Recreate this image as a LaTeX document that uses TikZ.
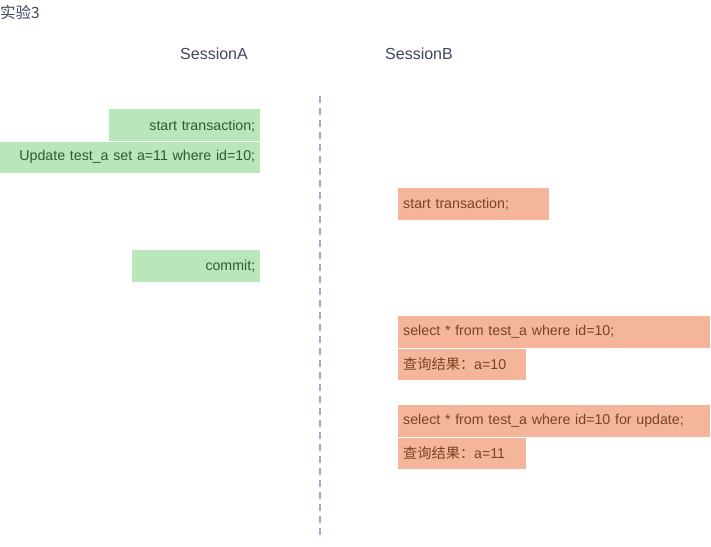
\documentclass[tikz,border=0pt]{standalone}
\usepackage{fontspec}
\setmainfont{Liberation Sans}
\newfontfamily\cjk{Noto Sans CJK SC}
\definecolor{gfill}{HTML}{B8E8BA}
\definecolor{gtext}{HTML}{2F5A30}
\definecolor{ofill}{HTML}{F5B59A}
\definecolor{otext}{HTML}{7A4422}
\definecolor{dline}{HTML}{9EA6E6}
\definecolor{hdr}{HTML}{3E4660}
\tikzset{
  gbox/.style={fill=gfill, text=gtext, anchor=north west, inner xsep=5pt, inner ysep=0pt, align=right, font=\fontsize{14.2}{16}\selectfont},
  obox/.style={fill=ofill, text=otext, anchor=north west, inner xsep=5pt, inner ysep=0pt, align=left, font=\fontsize{14.2}{16}\selectfont},
  hdrlabel/.style={text=hdr, font=\fontsize{16}{19}\selectfont, inner sep=0pt},
}
\begin{document}
\begin{tikzpicture}[x=1pt,y=-1pt]
\useasboundingbox (0,0) rectangle (711,546);
\node[anchor=west, text=hdr, inner sep=0pt, font=\cjk\fontsize{15.5}{18}\selectfont] (title) at (0,13) {实验3};
\node[hdrlabel] (sa) at (214,54) {SessionA};
\node[hdrlabel] (sb) at (419,54) {SessionB};
\coordinate (ltop) at (320,96);
\coordinate (lbot) at (320,540);
\draw[dline, line width=2pt, dash pattern=on 7pt off 5pt] (ltop) -- (lbot);
% green
\node[gbox, minimum width=151pt, minimum height=32pt, text width=141pt, text depth=0pt] (a1) at (109,109) {start transaction;};
\node[gbox, minimum width=260pt, minimum height=31pt, text width=250pt] (a2) at (0,141.5) {Update test\_a set a=11 where id=10;};
\node[gbox, minimum width=128pt, minimum height=32pt, text width=118pt] (a3) at (132,250) {commit;};
% orange
\node[obox, minimum width=151pt, minimum height=32pt, text width=141pt] (b1) at (398,188) {start transaction;};
\node[obox, minimum width=312pt, minimum height=32pt, text width=302pt] (b2) at (398,316) {select * from test\_a where id=10;};
\node[obox, minimum width=128pt, minimum height=31pt, text width=118pt] (b3) at (398,348.5) {{\cjk 查询结果：}a=10};
\node[obox, minimum width=312pt, minimum height=32pt, text width=302pt] (b4) at (398,405) {select * from test\_a where id=10 for update;};
\node[obox, minimum width=128pt, minimum height=31pt, text width=118pt] (b5) at (398,437.5) {{\cjk 查询结果：}a=11};
\end{tikzpicture}
\end{document}
